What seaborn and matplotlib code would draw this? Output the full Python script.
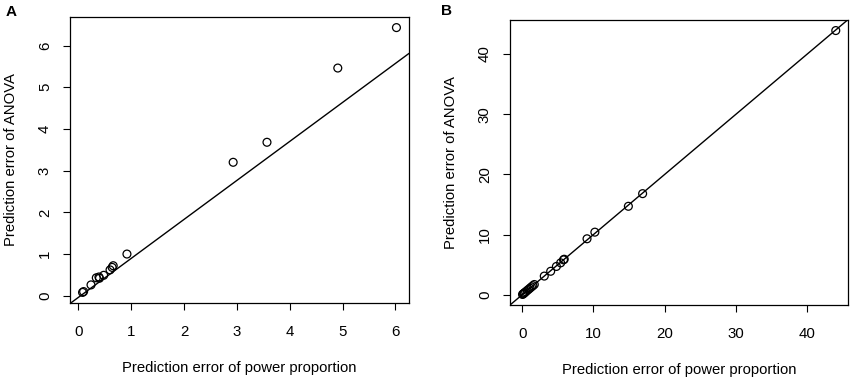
import matplotlib
matplotlib.use('Agg')
import matplotlib.pyplot as plt
import seaborn as sns
import pandas as pd

# panel A: prediction errors (power proportion vs ANOVA)
a_power = [0.08, 0.10, 0.24, 0.34, 0.39, 0.40, 0.48, 0.60, 0.64, 0.66, 0.92, 2.93, 3.57, 4.91, 6.02]
a_anova = [0.08, 0.10, 0.26, 0.43, 0.45, 0.42, 0.49, 0.62, 0.68, 0.72, 1.00, 3.20, 3.68, 5.46, 6.43]
a_line = (-0.04, 0.935)   # intercept, slope

# panel B
b_power = [0.05, 0.15, 0.25, 0.35, 0.5, 0.7, 0.9, 1.1, 1.3, 1.5, 1.7,
           3.1, 4.0, 4.8, 5.4, 5.8, 5.9, 9.1, 10.2, 14.9, 16.9, 44.0]
b_anova = [0.05, 0.15, 0.25, 0.35, 0.5, 0.7, 0.9, 1.1, 1.3, 1.5, 1.7,
           3.1, 3.9, 4.7, 5.3, 5.8, 5.9, 9.3, 10.4, 14.7, 16.8, 43.9]
b_line = (0.0, 1.0)

a_ticks = [0, 1, 2, 3, 4, 5, 6]
b_ticks = [0, 10, 20, 30, 40]

sns.set_style('ticks')
plt.rcParams['font.family'] = ['Liberation Sans', 'DejaVu Sans']
plt.rcParams['text.color'] = 'black'
plt.rcParams['axes.labelcolor'] = 'black'
plt.rcParams['xtick.color'] = 'black'
plt.rcParams['ytick.color'] = 'black'

fig = plt.figure(figsize=(8.51, 3.79), dpi=100)
axA = fig.add_axes([70/851, 1-303/379, (409-70)/851, (303-17)/379])
axB = fig.add_axes([510/851, 1-305/379, (848.3-510)/851, (305-20)/379])


def rlim(v):
    # R style 4% padding
    lo, hi = min(v), max(v)
    d = (hi - lo) * 0.04
    return lo - d, hi + d


def panel(ax, x, y, line, ticks, letter, pos):
    df = pd.DataFrame({'x': x, 'y': y})
    sns.scatterplot(data=df, x='x', y='y', ax=ax, marker='o', s=32,
                    facecolors='none', edgecolor='black', linewidth=0.9)
    ax.axline((0, line[0]), slope=line[1], color='black', lw=1)
    ax.set_xlim(*rlim(x))
    ax.set_ylim(*rlim(y))
    ax.set_xticks(ticks)
    ax.set_yticks(ticks)
    ax.set_xticklabels([str(t) for t in ticks])
    ax.set_yticklabels([str(t) for t in ticks], rotation=90, va='center')
    ax.tick_params(length=5, width=0.8, labelsize=10.8, color='black', labelcolor='black')
    ax.tick_params(axis='x', pad=11)
    ax.tick_params(axis='y', pad=8)
    for s in ax.spines.values():
        s.set_visible(True)
        s.set_color('black')
        s.set_linewidth(0.9)
    ax.set_xlabel('Prediction error of power proportion', fontsize=10.7, labelpad=16, color='black')
    ax.set_ylabel('Prediction error of ANOVA', fontsize=10.7, labelpad=14, color='black')
    fig.text(pos[0], pos[1], letter, fontsize=11, fontweight='bold', color='black')


panel(axA, a_power, a_anova, a_line, a_ticks, 'A', (6/851, 1-16/379))
panel(axB, b_power, b_anova, b_line, b_ticks, 'B', (441/851, 1-15/379))

fig.savefig('out.png', dpi=100)
